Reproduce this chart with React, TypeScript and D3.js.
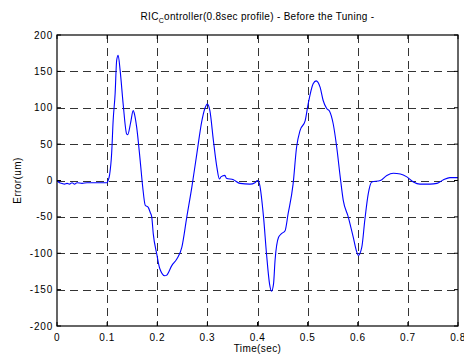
import { useEffect, useRef } from 'react'
import * as d3 from 'd3'

const times = [
  0, 0.005, 0.01, 0.015, 0.02, 0.025, 0.03, 0.035, 0.04, 0.05, 0.06, 0.07, 0.08, 0.09, 0.1,
  0.102, 0.105, 0.109, 0.112, 0.116, 0.119, 0.122, 0.126, 0.132, 0.139, 0.141, 0.147, 0.152,
  0.155, 0.159, 0.166, 0.171, 0.176, 0.182, 0.186, 0.189, 0.192, 0.199, 0.205, 0.215, 0.219,
  0.229, 0.239, 0.249, 0.259, 0.269, 0.279, 0.289, 0.295, 0.3, 0.305, 0.312, 0.319, 0.324,
  0.327, 0.335, 0.338, 0.352, 0.365, 0.385, 0.395, 0.4, 0.404, 0.412, 0.418, 0.424, 0.428,
  0.432, 0.435, 0.442, 0.448, 0.455, 0.461, 0.471, 0.478, 0.485, 0.495, 0.501, 0.511, 0.517,
  0.525, 0.531, 0.538, 0.544, 0.551, 0.558, 0.565, 0.571, 0.581, 0.591, 0.597, 0.601, 0.608,
  0.614, 0.621, 0.628, 0.645, 0.658, 0.671, 0.685, 0.698, 0.711, 0.724, 0.744, 0.758, 0.771,
  0.784, 0.8,
]
const errors = [
  0, -3, -4, -5, -4, -5, -3, -5, -3, -4, -3, -3, -3, -3, -3,
  0, 8, 37, 82, 120, 165, 172, 151, 105, 64, 63, 80, 96,
  90, 73, 27, -9, -34, -37, -44, -50, -73, -101, -121, -131, -130,
  -117, -108, -92, -50, -9, 37, 82, 99, 105, 96, 55, 18, 2,
  5, 7, 3, 1, -4, -5, -3, 0, -5, -50, -101, -142, -152,
  -142, -110, -78, -73, -69, -46, -5, 46, 69, 82, 105, 133, 137,
  128, 110, 99, 95, 78, 46, 5, -27, -50, -78, -96, -103, -92,
  -55, -18, -2, 0, 7, 10, 9, 5, -2, -5, -5, -4, 1,
  4, 4,
]
const xTicks = [0, 0.1, 0.2, 0.3, 0.4, 0.5, 0.6, 0.7, 0.8]
const yTicks = [-200, -150, -100, -50, 0, 50, 100, 150, 200]

const W = 464, H = 355
const margin = { top: 35, right: 6, bottom: 29, left: 57 }
const font = 'Liberation Sans, Arial, sans-serif'

const App = () => {
  const ref = useRef<SVGSVGElement | null>(null)
  useEffect(() => {
    const el = ref.current
    if (!el) return
    const svg = d3.select(el)
    const x = d3.scaleLinear().domain([0, 0.8]).range([margin.left, W - margin.right])
    const y = d3.scaleLinear().domain([-200, 200]).range([H - margin.bottom, margin.top])

    svg.append('rect').attr('width', W).attr('height', H).attr('fill', '#fff')

    // grid
    const grid = svg.append('g').attr('stroke', '#333').attr('stroke-dasharray', '8,5').attr('stroke-width', 1)
    grid.selectAll('line.v').data(xTicks.slice(1, -1)).join('line')
      .attr('x1', (d: number) => Math.round(x(d)) + 0.5).attr('x2', (d: number) => Math.round(x(d)) + 0.5)
      .attr('y1', y(200)).attr('y2', y(-200))
    grid.selectAll('line.h').data(yTicks.slice(1, -1)).join('line')
      .attr('class', 'h')
      .attr('x1', x(0)).attr('x2', x(0.8))
      .attr('y1', (d: number) => Math.round(y(d)) + 0.5).attr('y2', (d: number) => Math.round(y(d)) + 0.5)

    // line
    const pts = times.map((t, i) => [t, errors[i]] as [number, number])
    const line = d3.line<[number, number]>()
      .x((d: [number, number]) => x(d[0]))
      .y((d: [number, number]) => y(d[1]))
      .curve(d3.curveMonotoneX)
    svg.append('path').datum(pts).attr('fill', 'none').attr('stroke', '#0000ff')
      .attr('stroke-width', 1.1).attr('d', line as any)

    // box
    svg.append('rect').attr('x', x(0)).attr('y', y(200))
      .attr('width', x(0.8) - x(0)).attr('height', y(-200) - y(200))
      .attr('fill', 'none').attr('stroke', '#000').attr('stroke-width', 1.2)

    // ticks (inward)
    const tk = svg.append('g').attr('stroke', '#000')
    xTicks.forEach(t => {
      tk.append('line').attr('x1', x(t)).attr('x2', x(t)).attr('y1', y(-200)).attr('y2', y(-200) - 4)
      tk.append('line').attr('x1', x(t)).attr('x2', x(t)).attr('y1', y(200)).attr('y2', y(200) + 4)
    })
    yTicks.forEach(v => {
      tk.append('line').attr('x1', x(0)).attr('x2', x(0) + 4).attr('y1', y(v)).attr('y2', y(v))
      tk.append('line').attr('x1', x(0.8)).attr('x2', x(0.8) - 4).attr('y1', y(v)).attr('y2', y(v))
    })

    // tick labels
    svg.append('g').selectAll('text').data(xTicks).join('text')
      .attr('x', (d: number) => x(d)).attr('y', y(-200) + 15)
      .attr('text-anchor', 'middle').attr('font-family', font).attr('font-size', 10)
      .attr('letter-spacing', 0.6)
      .text((d: number) => d === 0 ? '0' : String(d))
    svg.append('g').selectAll('text').data(yTicks).join('text')
      .attr('x', x(0) - 4).attr('y', (d: number) => y(d) + 3.5)
      .attr('text-anchor', 'end').attr('font-family', font).attr('font-size', 10)
      .attr('letter-spacing', 0.8)
      .text((d: number) => String(d))

    // labels
    svg.append('text').attr('x', (x(0) + x(0.8)) / 2).attr('y', 352)
      .attr('text-anchor', 'middle').attr('font-family', font).attr('font-size', 10)
      .attr('letter-spacing', 0.4).text('Time(sec)')
    svg.append('text').attr('transform', `translate(21,${y(0)}) rotate(-90)`)
      .attr('text-anchor', 'middle').attr('font-family', font).attr('font-size', 10)
      .attr('letter-spacing', 0.4).text('Error(um)')

    const title = svg.append('text').attr('x', (x(0) + x(0.8)) / 2).attr('y', 20)
      .attr('text-anchor', 'middle').attr('font-family', font).attr('font-size', 10)
      .attr('letter-spacing', 0.3)
    title.append('tspan').text('RIC')
    title.append('tspan').attr('font-size', 7).attr('dy', 3).text('C')
    title.append('tspan').attr('dy', -3).text('ontroller(0.8sec profile) - Before the Tuning -')

    return () => { svg.selectAll('*').remove() }
  }, [])
  return <svg ref={ref} width={W} height={H} style={{ position: 'absolute', left: 0, top: 0 }} />
}

export default App
